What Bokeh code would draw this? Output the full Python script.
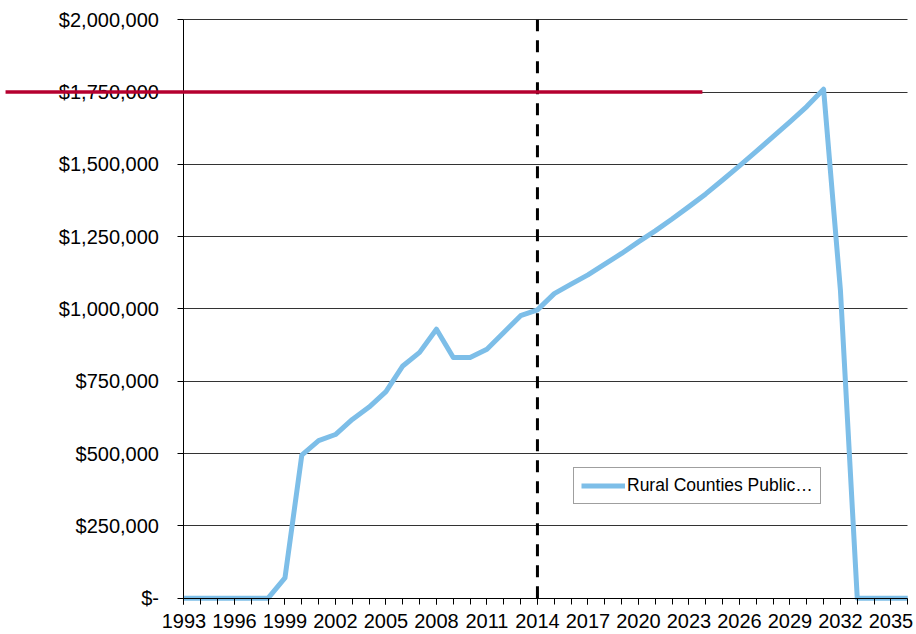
from bokeh.plotting import figure
from bokeh.models import Range1d, FixedTicker, Arrow, Grid
from bokeh.embed import file_html
from bokeh.resources import INLINE

# ---- data ----
years = list(range(1993, 2037))
values = [0, 0, 0, 0, 0, 0,
          70000, 495000, 545000, 566000, 618000, 661000, 714000, 803000,
          850000, 930000, 832000, 832000, 861000, 919000, 977000, 997000,
          1053000, 1086000, 1118000, 1155000, 1192000, 1232000, 1270000,
          1311000, 1354000, 1398000, 1446000, 1495000, 1545000, 1596000,
          1647000, 1700000, 1760000, 1065000, 0, 0, 0, 0]
series_name = "Rural Counties Public\u2026"
label_years = list(range(1993, 2036, 3))
y_ticks = [0, 250000, 500000, 750000, 1000000, 1250000, 1500000, 1750000, 2000000]
y_labels = ["$-", "$250,000", "$500,000", "$750,000", "$1,000,000",
            "$1,250,000", "$1,500,000", "$1,750,000", "$2,000,000"]
divider_year = 2014
target_value = 1750000
target_x_from = 1982.4
target_x_to = 2023.8

FONT = "Liberation Sans"
x_first, x_last = years[0], years[-1]
y_min, y_max = y_ticks[0], y_ticks[-1]
# margins around the value area, kept inside the frame so labels are not clipped
x_lead = 10.9          # years left of the first year
x_trail = 0.52         # years right of the last year
y_below = 125500       # dollars below zero
y_above = 66700        # dollars above the top

p = figure(width=916, height=634,
           x_range=Range1d(x_first - x_lead, x_last + x_trail),
           y_range=Range1d(y_min - y_below, y_max + y_above),
           output_backend="svg", toolbar_location=None,
           min_border_left=0, min_border_right=0,
           min_border_top=0, min_border_bottom=0)
p.outline_line_color = None
p.background_fill_color = "white"
p.border_fill_color = "white"

# x axis, pinned at zero
p.xaxis.fixed_location = y_min
p.xaxis.ticker = FixedTicker(ticks=label_years, minor_ticks=years)
p.xaxis.bounds = (x_first, x_last)
p.xaxis.major_tick_out = 6
p.xaxis.major_tick_in = 0
p.xaxis.minor_tick_out = 6
p.xaxis.minor_tick_in = 0
p.xaxis.major_tick_line_color = "black"
p.xaxis.minor_tick_line_color = "black"
p.xaxis.axis_line_color = "black"
p.xaxis.major_label_standoff = 10
p.xaxis.major_label_text_font = FONT
p.xaxis.major_label_text_font_size = "20px"
p.xaxis.major_label_text_color = "black"

# y axis, pinned at the first year
p.yaxis.fixed_location = x_first
p.yaxis.ticker = FixedTicker(ticks=y_ticks)
p.yaxis.bounds = (y_min, y_max)
p.yaxis.major_label_overrides = {t: l for t, l in zip(y_ticks, y_labels)}
p.yaxis.minor_tick_line_color = None
p.yaxis.major_tick_out = 6
p.yaxis.major_tick_in = 0
p.yaxis.major_tick_line_color = "black"
p.yaxis.axis_line_color = "black"
p.yaxis.major_label_standoff = 19
p.yaxis.major_label_text_font = FONT
p.yaxis.major_label_text_font_size = "20px"
p.yaxis.major_label_text_color = "black"

p.xgrid.visible = False
p.ygrid.ticker = FixedTicker(ticks=y_ticks)
p.ygrid.grid_line_color = "#333333"
p.ygrid.grid_line_width = 1
if "cross_bounds" in Grid.properties():
    p.ygrid.cross_bounds = (x_first, x_last)
else:
    p.ygrid.visible = False
    p.segment(x0=[x_first] * len(y_ticks), x1=[x_last] * len(y_ticks),
              y0=y_ticks, y1=y_ticks, line_color="#333333", line_width=1)

# series
p.line(years, values, line_color="#7DBEE8", line_width=5, line_join="round",
       legend_label=series_name)

# divider (from zero to the top of the value axis)
p.add_layout(Arrow(start=None, end=None, x_start=divider_year, y_start=y_min,
                   x_end=divider_year, y_end=y_max,
                   line_color="black", line_width=3, line_dash="12 9"))

# target line
p.add_layout(Arrow(start=None, end=None, x_start=target_x_from, y_start=target_value,
                   x_end=target_x_to, y_end=target_value,
                   line_color="#B5002F", line_width=3.5))

leg = p.legend[0]
leg.location = (573, 130)
leg.label_text_font = FONT
leg.label_text_font_size = "17.5px"
leg.label_text_color = "black"
leg.glyph_width = 44
leg.glyph_height = 19
leg.label_height = 19
leg.label_standoff = 2
leg.padding = 7
leg.spacing = 0
leg.margin = 0
leg.border_line_color = "#404040"
leg.border_line_width = 1
leg.background_fill_alpha = 1

open("out.html", "w").write(file_html(p, INLINE))
